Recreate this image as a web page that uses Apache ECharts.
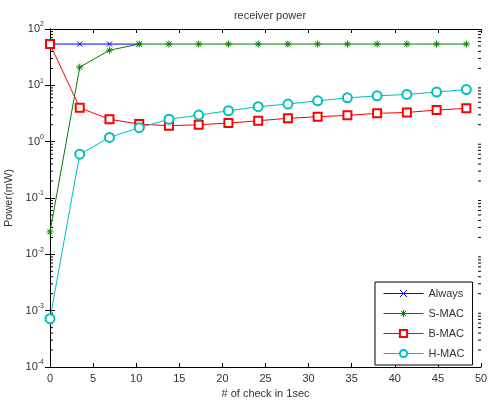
<!DOCTYPE html>
<html>
<head>
    <meta charset="UTF-8">
    <title>receiver power</title>
    <script src="https://cdn.jsdelivr.net/npm/echarts@6/dist/echarts.min.js"></script>
    <style>
        html, body { margin: 0; padding: 0; background: #fff; }
        #chart { width: 499px; height: 404px; }
    </style>
</head>
<body>
<div id="chart"></div>
<script>
    // x positions (# of check in 1sec)
    var checks = [0, 3.45, 6.9, 10.35, 13.8, 17.25, 20.7, 24.15, 27.6, 31.05, 34.5, 37.95, 41.4, 44.85, 48.3];
    var always = [54, 54, 54, 54];
    var smac = [0.025, 21, 42, 54, 54, 54, 54, 54, 54, 54, 54, 54, 54, 54, 54];
    var bmac = [54, 4.0, 2.5, 2.05, 1.92, 2.0, 2.14, 2.35, 2.6, 2.77, 2.93, 3.18, 3.3, 3.64, 3.9];
    var hmac = [0.00072, 0.6, 1.19, 1.77, 2.5, 2.96, 3.54, 4.17, 4.66, 5.3, 6.0, 6.5, 6.9, 7.6, 8.4];
    var names = ['Always', 'S-MAC', 'B-MAC', 'H-MAC'];
    var decades = [-4, -3, -2, -1, 0, 1];

    function pairs(vals) {
        return vals.map(function (v, i) { return [checks[i], v]; });
    }

    // minor ticks 2..9 x 10^n for the log axis
    var minorVals = [];
    decades.forEach(function (d) {
        for (var k = 2; k <= 9; k++) minorVals.push(k * Math.pow(10, d));
    });

    var xMark = 'path://M0,0L10,10M10,0L0,10';
    var starMark = 'path://M5,0L5,10M0,5L10,5M1.5,1.5L8.5,8.5M8.5,1.5L1.5,8.5';

    function lineSeries(name, vals, color, symbol, size) {
        return {
            name: name,
            type: 'line',
            data: pairs(vals),
            symbol: symbol,
            symbolSize: size,
            showAllSymbol: true,
            lineStyle: { color: color, width: 1 },
            itemStyle: { color: color, borderColor: color, borderWidth: 1 },
            animation: false,
            z: 3
        };
    }

    var labelColor = '#333';
    var option = {
        backgroundColor: '#fff',
        title: {
            text: 'receiver power',
            left: 265,
            textAlign: 'center',
            top: 5,
            textStyle: { fontFamily: 'Liberation Sans', fontSize: 11, fontWeight: 'normal', color: labelColor }
        },
        legend: {
            data: names,
            orient: 'vertical',
            left: 375,
            top: 282,
            backgroundColor: '#fff',
            borderColor: '#000',
            borderWidth: 1,
            padding: [6, 8, 6, 8],
            itemWidth: 40,
            itemHeight: 9,
            itemGap: 9,
            itemStyle: { borderWidth: 1 },
            lineStyle: { width: 1 },
            textStyle: { fontFamily: 'Liberation Sans', fontSize: 11, color: labelColor }
        },
        grid: { left: 50, right: 18, top: 29, bottom: 37, containLabel: false, outerBoundsMode: 'none' },
        xAxis: [{
            type: 'value',
            min: 0, max: 50, interval: 5,
            name: '# of check in 1sec',
            nameLocation: 'middle',
            nameGap: 20,
            nameTextStyle: { fontFamily: 'Liberation Sans', fontSize: 11, color: labelColor },
            axisLine: { lineStyle: { color: '#000' } },
            axisTick: { inside: true, length: 4, lineStyle: { color: '#000' } },
            axisLabel: { fontFamily: 'Liberation Sans', fontSize: 11, color: labelColor, margin: 6 },
            splitLine: { show: false }
        }, {
            type: 'value',
            position: 'top',
            min: 0, max: 50, interval: 5,
            axisLine: { lineStyle: { color: '#000' } },
            axisTick: { inside: true, length: 4, lineStyle: { color: '#000' } },
            axisLabel: { show: false },
            splitLine: { show: false }
        }],
        yAxis: [{
            type: 'log',
            logBase: 10,
            min: 1e-4, max: 100,
            name: 'Power(mW)',
            nameLocation: 'middle',
            nameGap: 35,
            nameTextStyle: { fontFamily: 'Liberation Sans', fontSize: 11, color: labelColor },
            axisLine: { lineStyle: { color: '#000' } },
            axisTick: { inside: true, length: 5, lineStyle: { color: '#000' } },
            axisLabel: {
                margin: 6,
                formatter: function (v) {
                    return '{b|10}{s|' + Math.round(Math.log10(v)) + '}';
                },
                rich: {
                    b: { fontFamily: 'Liberation Sans', fontSize: 11, color: labelColor },
                    s: { fontFamily: 'Liberation Sans', fontSize: 7, color: labelColor, padding: [0, 0, 9, 0] }
                }
            },
            splitLine: { show: false }
        }, {
            type: 'log',
            logBase: 10,
            min: 1e-4, max: 100,
            position: 'right',
            axisLine: { lineStyle: { color: '#000' } },
            axisTick: { inside: true, length: 5, lineStyle: { color: '#000' } },
            axisLabel: { show: false },
            splitLine: { show: false }
        }],
        series: [
            lineSeries('Always', always, '#0000ff', xMark, 5),
            lineSeries('S-MAC', smac, '#008000', starMark, 7),
            lineSeries('B-MAC', bmac, '#ff0000', 'emptyRect', 8),
            lineSeries('H-MAC', hmac, '#00bfbf', 'emptyCircle', 9),
            {
                type: 'custom',
                silent: true,
                animation: false,
                data: minorVals,
                encode: { y: 0 },
                renderItem: function (params, api) {
                    var v = api.value(0);
                    var l = api.coord([0, v]);
                    var r = api.coord([50, v]);
                    var st = { stroke: '#000', lineWidth: 1 };
                    return {
                        type: 'group',
                        children: [
                            { type: 'line', shape: { x1: l[0], y1: l[1], x2: l[0] + 3, y2: l[1] }, style: st },
                            { type: 'line', shape: { x1: r[0], y1: r[1], x2: r[0] - 3, y2: r[1] }, style: st }
                        ]
                    };
                }
            }
        ]
    };

    var myChart = echarts.init(document.getElementById('chart'));
    myChart.setOption(option);
</script>
</body>
</html>
